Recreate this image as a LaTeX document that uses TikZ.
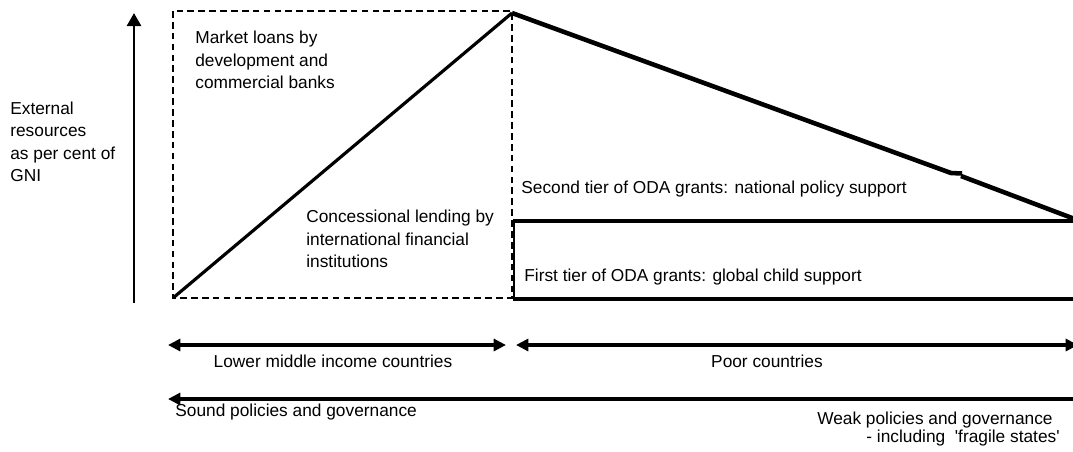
\documentclass[tikz,border=0pt]{standalone}
\usepackage{fontspec}
\setmainfont{Liberation Sans}
\usetikzlibrary{arrows.meta}
\usetikzlibrary{positioning}
\tikzset{
  lbl/.style={inner sep=0pt, font=\fontsize{9.85pt}{12.8pt}\selectfont, align=left},
  dashbox/.style={line width=1.1pt, dash pattern=on 3.8pt off 2.4pt},
  band/.style={line width=2.3pt},
  tip/.tip={Triangle[length=7pt,width=6.8pt]}
}
\begin{document}
\begin{tikzpicture}[line join=miter,>={Triangle[length=7.5pt,width=8pt]},x=0.02cm,y=-0.02cm]
\useasboundingbox (0,0) rectangle (1073,451);
\clip (0,0) rectangle (1073,451);
\coordinate (axbot) at (134,303);
\coordinate (axtop) at (134,13);
\coordinate (org) at (173,298);
\coordinate (peak) at (512,13);
\coordinate (jog1) at (951,173);
\coordinate (jog2) at (962,173.5);
\coordinate (jog3) at (961,176);
\coordinate (slopeend) at (1080,221);
\coordinate (tiertl) at (513,221);
\coordinate (tiertr) at (1080,221);
\coordinate (tierbl) at (513,299);
\coordinate (tierbr) at (1080,299);
\coordinate (lmicl) at (168,345);
\coordinate (lmicr) at (506,345);
\coordinate (poorl) at (516,345);
\coordinate (poorr) at (1078,345);
\coordinate (govl) at (168,399);
\coordinate (govr) at (1080,399);
\draw [->,line width=1.7pt] (axbot) -- (axtop);
\draw [dashbox] (173,11) rectangle (512,298);
\draw [line width=1.8pt] (org) -- (peak);
\draw [line width=2.6pt,line join=bevel] (peak) -- (jog1) -- (jog2);
\draw [line width=2.6pt] (jog3) -- (slopeend);
\draw [line width=2.4pt] (tiertl) -- (tiertr);
\draw [line width=1.4pt] (514,221) -- (514,299);
\draw [line width=2.6pt] (tierbl) -- (tierbr);
\draw [band,tip-tip] (lmicl) -- (lmicr);
\draw [band,tip-tip] (poorl) -- (poorr);
\draw [band,tip-] (govl) -- (govr);
\node [lbl,anchor=west] (yaxis) at (10,142) {External\\resources\\as per cent of\\GNI};
\node [lbl,anchor=west] (market) at (195,60) {Market loans by\\development and\\commercial banks};
\node [lbl,anchor=west] (concess) at (306,239) {Concessional lending by\\international financial\\institutions};
\node [lbl,anchor=west] (second) at (521,189) {Second tier of ODA grants: national policy support};
\node [lbl,anchor=west] (first) at (524,277) {First tier of ODA grants: global child support};
\node [lbl] (lmic) at (333,361) {Lower middle income countries};
\node [lbl] (poor) at (767,361) {Poor countries};
\node [lbl,anchor=west] (sound) at (175,412) {Sound policies and governance};
\node [lbl,anchor=east] (weak) at (1053,420) {Weak policies and governance};
\node [lbl,anchor=east] (fragile) at (1060,438) {- including\ \ \textquotesingle fragile states\textquotesingle};
\end{tikzpicture}
\end{document}
